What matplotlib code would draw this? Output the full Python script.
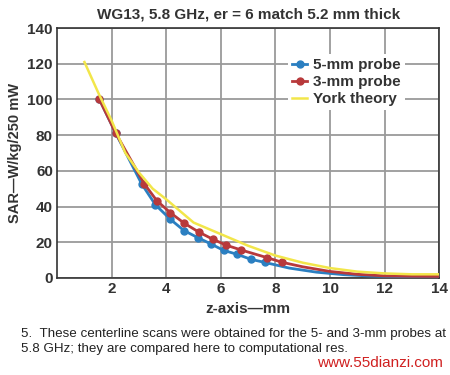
import matplotlib
matplotlib.use("Agg")
import matplotlib.pyplot as plt

plt.rcParams['font.family'] = ['Liberation Sans', 'DejaVu Sans']

# 5-mm probe
z5 = [1.55, 2.15, 3.1, 3.6, 4.15, 4.65, 5.15, 5.65, 6.1, 6.6, 7.1, 7.6, 8.5, 9.5, 10.5, 11.5, 12.5, 14]
sar5 = [100, 81, 52.6, 41, 32.8, 26.5, 22.6, 18.9, 15.4, 13.2, 10.4, 8.7, 5.5, 3.2, 1.8, 1.0, 0.7, 0.5]
marks5 = list(range(12))

# 3-mm probe
z3 = [1.55, 2.15, 3.2, 3.65, 4.15, 4.65, 5.2, 5.7, 6.2, 6.75, 7.7, 8.25, 9.0, 10.0, 11.0, 12.0, 13.0, 14]
sar3 = [100, 81, 52.6, 43.3, 36.5, 30.7, 25.6, 21.7, 18.3, 15.6, 11.3, 8.7, 6.2, 3.6, 2.0, 1.1, 0.9, 0.8]
marks3 = list(range(12))

# York theory
zy = [1, 1.5, 2, 2.5, 3, 3.5, 4, 5, 6, 7, 8, 9, 10, 11, 12, 13, 14]
sary = [121, 104, 88, 70, 59, 50, 44, 31, 24.5, 18, 12.5, 8.5, 5.5, 3.5, 2.5, 2, 2]

blue = '#2b7fc1'
red = '#b8393b'
yellow = '#f2e64a'

fig = plt.figure(figsize=(4.5, 3.75), dpi=100)
ax = fig.add_axes([0.127, 0.259, 0.849, 0.666])

ax.plot(z5, sar5, color=blue, lw=2, marker='o', ms=5, markevery=marks5, label='5-mm probe', zorder=3)
ax.plot(z3, sar3, color=red, lw=2, marker='o', ms=5, markevery=marks3, label='3-mm probe', zorder=4)
ax.plot(zy, sary, color=yellow, lw=1.8, label='York theory', zorder=5)

ax.set_xlim(0, 14)
ax.set_ylim(0, 140)
ax.set_xticks([2, 4, 6, 8, 10, 12, 14])
ax.set_yticks(range(0, 141, 20))
ax.grid(True, color='#9a9a9a', lw=1.3)
ax.set_axisbelow(True)
ax.tick_params(length=0, labelsize=11, pad=3)
for lab in ax.get_xticklabels() + ax.get_yticklabels():
    lab.set_fontweight('bold')
    lab.set_color('#333333')
for s in ax.spines.values():
    s.set_color('#333333')
    s.set_linewidth(1.2)

ax.set_xlabel('z-axis\u2014mm', fontsize=11, fontweight='bold', color='#333333', labelpad=4)
ax.set_ylabel('SAR\u2014W/kg/250 mW', fontsize=10.5, fontweight='bold', color='#333333', labelpad=4)
ax.set_title('WG13, 5.8 GHz, er = 6 match 5.2 mm thick', fontsize=11, fontweight='bold',
             color='#333333', pad=7)

leg = ax.legend(loc='upper left', bbox_to_anchor=(0.585, 0.925), frameon=True, fancybox=False,
                edgecolor='none', framealpha=1, handlelength=1.0, handletextpad=0.4,
                labelspacing=0.2, borderpad=0.25, prop={'weight': 'bold', 'size': 11})
for t in leg.get_texts():
    t.set_color('#333333')

fig.text(0.047, 0.09, '5.  These centerline scans were obtained for the 5- and 3-mm probes at\n'
         '5.8 GHz; they are compared here to computational res.',
         fontsize=9.6, color='#222222', va='center', linespacing=1.3)
fig.text(0.985, 0.032, 'www.55dianzi.com', fontsize=11, color='#d02020', ha='right', va='center')

fig.savefig('out.png', dpi=100)
